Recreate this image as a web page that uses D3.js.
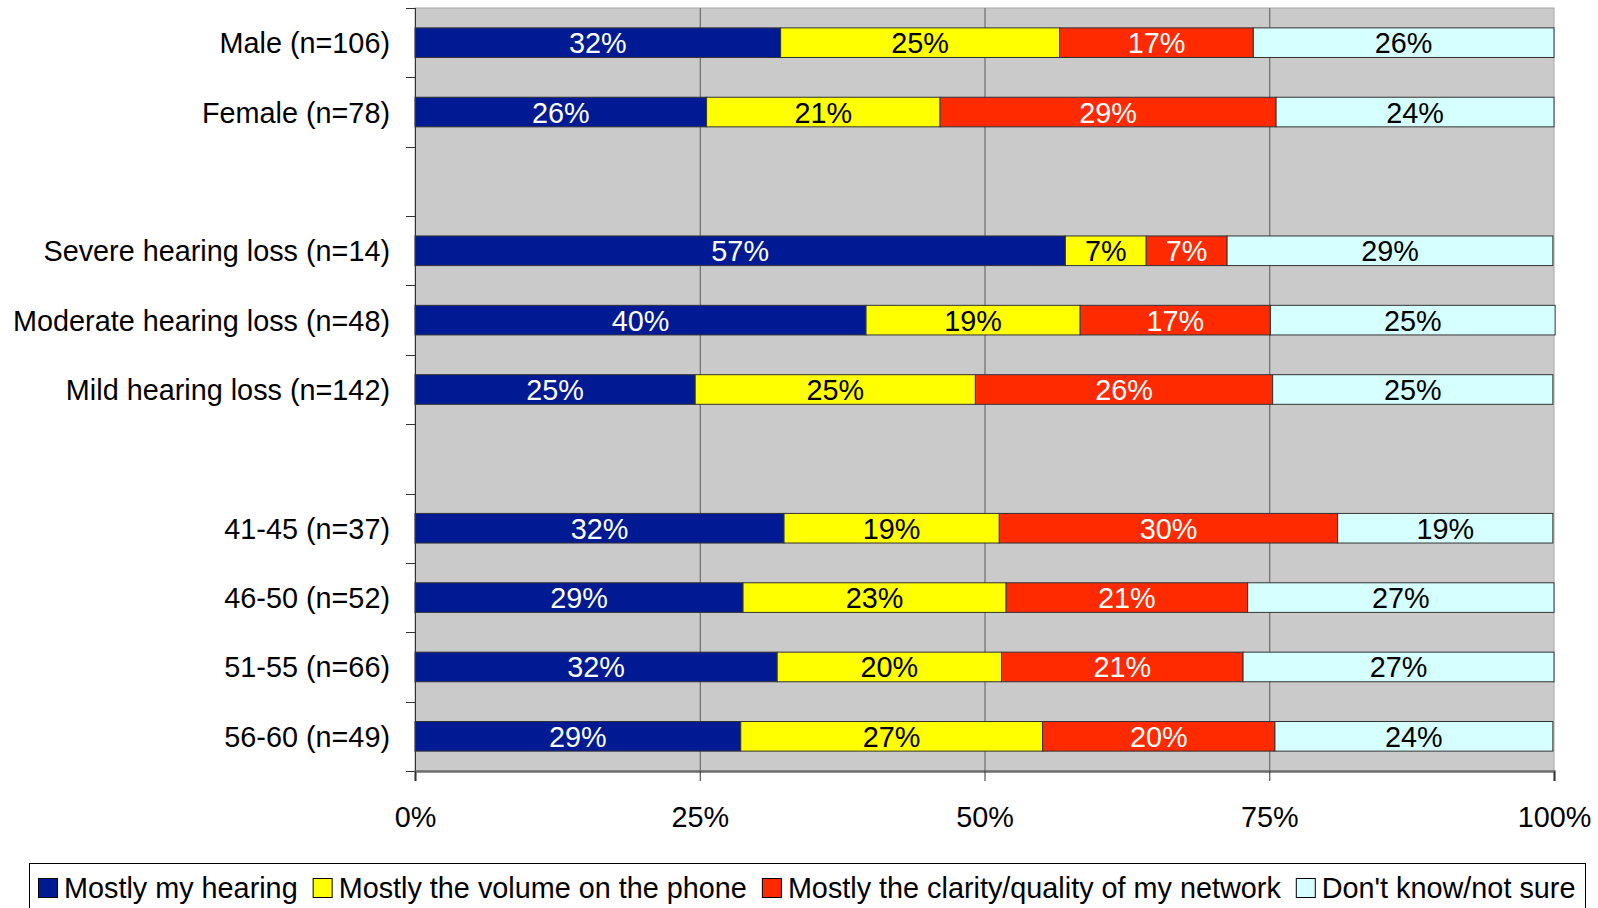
<!DOCTYPE html>
<html>
<head>
<meta charset="utf-8">
<script src="https://cdn.jsdelivr.net/npm/d3@7"></script>
<style>
  html, body { margin: 0; padding: 0; background: #fff; }
  svg { display: block; font-family: "Liberation Sans", Arial, sans-serif; }
</style>
</head>
<body>
<svg id="chart" width="1598" height="908"></svg>
<script>
// ---- Data ----
const categories = [
  "Male (n=106)", "Female (n=78)", "",
  "Severe hearing loss (n=14)", "Moderate hearing loss (n=48)", "Mild hearing loss (n=142)", " ",
  "41-45 (n=37)", "46-50 (n=52)", "51-55 (n=66)", "56-60 (n=49)"
];
const seriesNames = [
  "Mostly my hearing",
  "Mostly the volume on the phone",
  "Mostly the clarity/quality of my network",
  "Don't know/not sure"
];
const mostlyHearing = [32.1, 25.6, null, 57.1, 39.6, 24.6, null, 32.4, 28.8, 31.8, 28.6];
const mostlyVolume  = [24.5, 20.5, null,  7.1, 18.8, 24.6, null, 18.9, 23.1, 19.7, 26.5];
const mostlyClarity = [17.0, 29.5, null,  7.1, 16.7, 26.1, null, 29.7, 21.2, 21.2, 20.4];
const dontKnow      = [26.4, 24.4, null, 28.6, 25.0, 24.6, null, 18.9, 26.9, 27.3, 24.4];
const xTicks = [0, 25, 50, 75, 100];
const xTickLabels = ["0%", "25%", "50%", "75%", "100%"];

const colors = ["#001A94", "#FFFF00", "#FF2A00", "#D6FFFF"];
const labelColors = ["#FFFFFF", "#000000", "#FFFFFF", "#000000"];

(function () {
// ---- Layout ----
const svg = d3.select("#chart");
const pL = 415, pR = 1554, pT = 8, pB = 771;
const fontSize = 28.8;

const x = d3.scaleLinear().domain([0, 100]).range([pL, pR]);
const y = d3.scaleBand().domain(categories).range([pT, pB]).paddingInner(0.573).paddingOuter(0.2865);

// plot background
svg.append("rect").attr("x", pL).attr("y", pT).attr("width", pR - pL).attr("height", pB - pT)
  .attr("fill", "#CACACA").attr("stroke", "#A8A8A8").attr("stroke-width", 1);

// gridlines
svg.append("g").selectAll("line").data(xTicks.slice(1, -1)).join("line")
  .attr("x1", d => x(d) + 0.5).attr("x2", d => x(d) + 0.5)
  .attr("y1", pT).attr("y2", pB)
  .attr("stroke", "#5A5A5A").attr("stroke-width", 1);

// stacked data
const rows = categories.map((c, i) => ({
  cat: c,
  vals: [mostlyHearing[i], mostlyVolume[i], mostlyClarity[i], dontKnow[i]]
})).filter(r => r.vals[0] !== null);

const stackData = rows.map(r => {
  const o = { cat: r.cat };
  seriesNames.forEach((s, k) => o[s] = r.vals[k]);
  return o;
});
const stacked = d3.stack().keys(seriesNames)(stackData);

const gBars = svg.append("g");
stacked.forEach((layer, k) => {
  const g = gBars.append("g");
  g.selectAll("rect").data(layer).join("rect")
    .attr("x", d => x(d[0]))
    .attr("y", d => y(d.data.cat))
    .attr("width", d => x(d[1]) - x(d[0]))
    .attr("height", y.bandwidth())
    .attr("fill", colors[k])
    .attr("stroke", "#333")
    .attr("stroke-width", 1);
});
stacked.forEach((layer, k) => {
  gBars.append("g").selectAll("text").data(layer).join("text")
    .attr("x", d => (x(d[0]) + x(d[1])) / 2)
    .attr("y", d => y(d.data.cat) + y.bandwidth() / 2 + 10.5)
    .attr("text-anchor", "middle")
    .attr("font-size", fontSize)
    .attr("fill", labelColors[k])
    .text(d => Math.round(d[1] - d[0]) + "%");
});

// left axis line
svg.append("line").attr("x1", pL + 0.5).attr("x2", pL + 0.5).attr("y1", pT).attr("y2", pB)
  .attr("stroke", "#333").attr("stroke-width", 1);
// tick marks at band boundaries
const bounds = categories.map((c, i) => y(c) - y.step() * y.paddingInner() / 2).concat([pB]);
svg.append("g").selectAll("line").data(bounds).join("line")
  .attr("x1", pL - 9).attr("x2", pL).attr("y1", d => Math.round(d) + 0.5).attr("y2", d => Math.round(d) + 0.5)
  .attr("stroke", "#333").attr("stroke-width", 1);
// category labels
svg.append("g").selectAll("text").data(categories.filter(c => c.trim() !== "")).join("text")
  .attr("x", 390)
  .attr("y", d => y(d) + y.bandwidth() / 2 + 10.5)
  .attr("text-anchor", "end")
  .attr("font-size", fontSize)
  .attr("fill", "#000")
  .text(d => d);

// bottom axis
const xAxis = d3.axisBottom(x).tickValues(xTicks).tickFormat((d, i) => xTickLabels[i]).tickSize(10).tickPadding(26);
const gx = svg.append("g").attr("transform", `translate(0,${pB})`).call(xAxis);
gx.select(".domain").attr("stroke", "#6E6E6E").attr("stroke-width", 2.5);
gx.selectAll(".tick line").attr("stroke", "#333");
gx.selectAll(".tick text").attr("font-size", fontSize).attr("fill", "#000")
  .attr("font-family", '"Liberation Sans", Arial, sans-serif');

// legend
const lg = svg.append("g");
lg.append("rect").attr("x", 29.5).attr("y", 863.5).attr("width", 1556).attr("height", 60)
  .attr("fill", "#fff").attr("stroke", "#000").attr("stroke-width", 1);
let lx = 38;
seriesNames.forEach((s, k) => {
  lg.append("rect").attr("x", lx + 0.5).attr("y", 878.5).attr("width", 19).attr("height", 19)
    .attr("fill", colors[k]).attr("stroke", "#000").attr("stroke-width", 1);
  const t = lg.append("text").attr("x", lx + 26).attr("y", 898).attr("font-size", fontSize).attr("fill", "#000").text(s);
  lx = lx + 26 + t.node().getComputedTextLength() + 15;
});
})();
</script>
</body>
</html>
